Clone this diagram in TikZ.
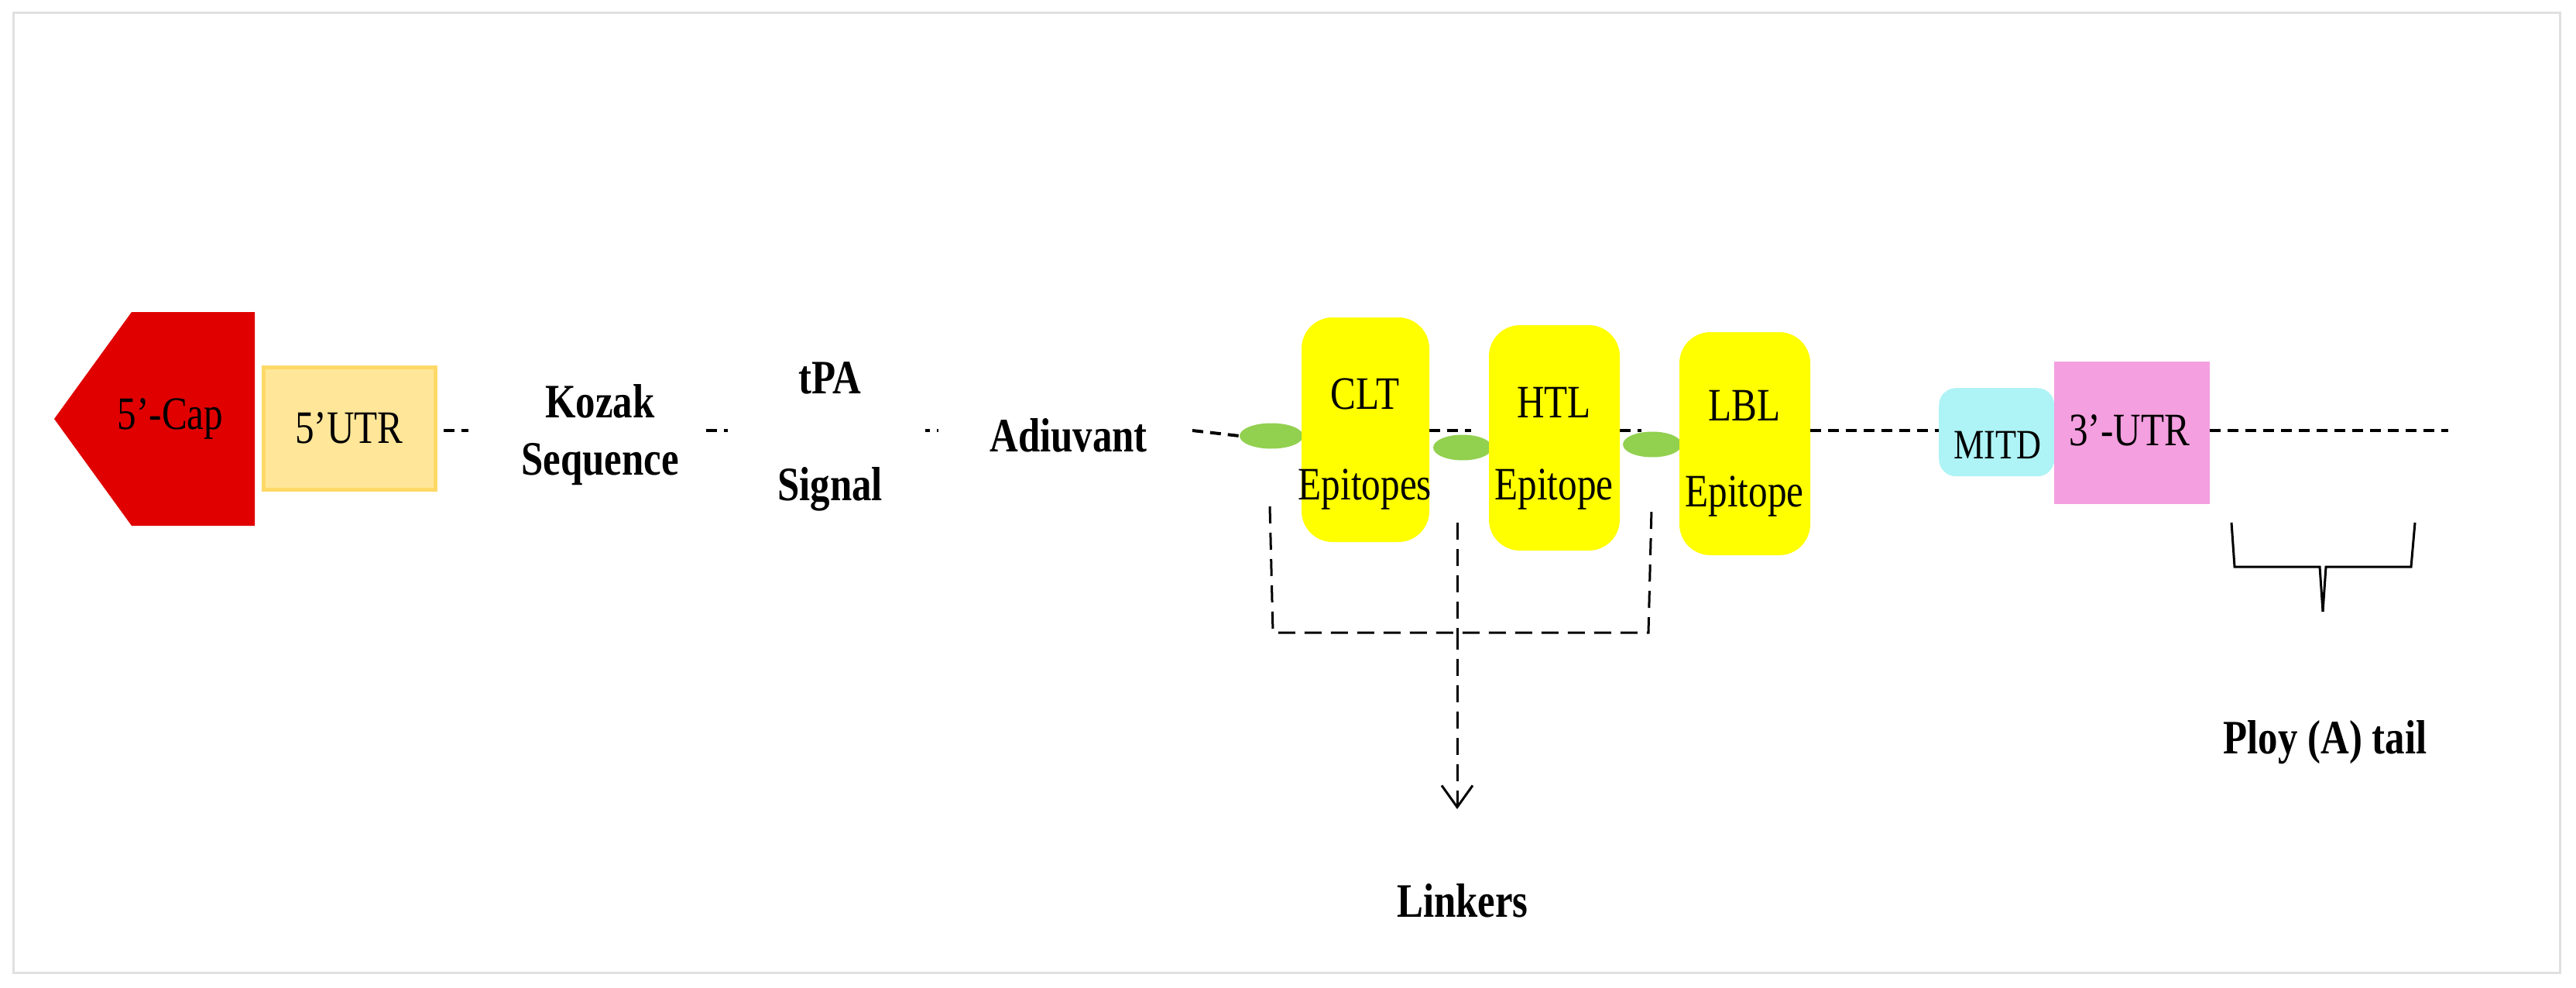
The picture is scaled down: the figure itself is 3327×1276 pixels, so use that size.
\documentclass[tikz,border=0pt]{standalone}
\usepackage{fontspec}
\setmainfont{Liberation Serif}[FakeStretch=0.82]
\usetikzlibrary{arrows.meta,shapes.geometric}
\definecolor{capred}{HTML}{E00000}
\definecolor{utrfill}{HTML}{FFE699}
\definecolor{utrdraw}{HTML}{FFD966}
\definecolor{epi}{HTML}{FFFF00}
\definecolor{lnk}{HTML}{92D050}
\definecolor{mitd}{HTML}{AEF3F5}
\definecolor{utr3}{HTML}{F49FE0}
\begin{document}
\begin{tikzpicture}[x=1pt,y=-1pt,
  lbl/.style={font=\fontsize{62}{66}\selectfont\bfseries, align=center, inner sep=0},
  boxlbl/.style={font=\fontsize{60}{64}\selectfont, inner sep=0},
  epibox/.style={fill=epi, rounded corners=40pt},
  dline/.style={line width=4pt, dash pattern=on 14pt off 9pt},
  lk/.style={fill=lnk, draw=none},
  bdash/.style={line width=3pt, dash pattern=on 22pt off 12pt}]
\useasboundingbox (0,0) rectangle (3327,1276);
\fill[white] (0,0) rectangle (3327,1276);
\draw[line width=3pt, black!12] (17,17) rectangle (3306,1256);
% 5'-Cap
\fill[capred] (70,541) -- (170,403) -- (329,403) -- (329,679) -- (170,679) -- cycle;
\node[boxlbl] (cap) at (220,541) {5’-Cap};
% 5'UTR
\node[draw=utrdraw, fill=utrfill, line width=5pt, minimum width=222pt, minimum height=158pt, inner sep=0, font=\fontsize{60}{64}\selectfont] (utr5) at (451,553) {5’UTR};
% texts
\node[lbl] (kozak) at (775,562) {Kozak\\[8pt]Sequence};
\node[lbl] (tpa) at (1072,488) {tPA};
\node[lbl] (signal) at (1072,632) {Signal};
\node[lbl] (adj) at (1380,562) {Adiuvant};
% dashed backbone pieces
\coordinate (d1a) at (573,556); \coordinate (d1b) at (605,556);
\coordinate (d2a) at (912,556); \coordinate (d2b) at (940,556);
\coordinate (d3a) at (1195,556); \coordinate (d3b) at (1212,556);
\coordinate (d4a) at (1540,556);
\draw[dline] (d1a) -- (d1b);
\draw[dline] (d2a) -- (d2b);
\draw[line width=4pt, dash pattern=on 6pt off 9pt] (d3a) -- (d3b);
% linkers
\node[lk, ellipse, minimum width=82pt, minimum height=33pt, inner sep=0] (l1) at (1642,563) {};
\node[lk, ellipse, minimum width=76pt, minimum height=33pt, inner sep=0] (l2) at (1889,578) {};
\node[lk, ellipse, minimum width=76pt, minimum height=33pt, inner sep=0] (l3) at (2134,574) {};
\draw[dline] (d4a) -- (l1.west);
\draw[dline] (1846,556) -- (1900,556);
\draw[dline] (2092,556) -- (2120,556);
% epitope boxes
\fill[epibox] (1681,410) rectangle (1846,700);
\fill[epibox] (1923,420) rectangle (2092,711);
\fill[epibox] (2169,429) rectangle (2338,717);
\node[boxlbl] (clt) at (1763,509) {CLT};
\node[boxlbl] (clte) at (1763,632) {Epitopes};
\node[boxlbl] (htl) at (2007,520) {HTL};
\node[boxlbl] (htle) at (2007,632) {Epitope};
\node[boxlbl] (lbl) at (2253,524) {LBL};
\node[boxlbl] (lble) at (2253,641) {Epitope};
% MITD and 3'UTR
\coordinate (d5) at (2504,556);
\draw[dline] (2338,556) -- (d5);
\node[fill=mitd, rounded corners=22pt, minimum width=149pt, minimum height=114pt, inner sep=0, anchor=north west] (mitd) at (2504,501) {};
\node[boxlbl, font=\fontsize{54}{58}\selectfont] (mitdt) at (2580,575) {MITD};
\node[fill=utr3, minimum width=201pt, minimum height=184pt, inner sep=0, anchor=north west] (utr3) at (2653,467) {};
\node[boxlbl] (utr3t) at (2750,556) {3’-UTR};
\coordinate (tailend) at (3162,556);
\draw[dline] (utr3.east |- tailend) -- (tailend);
% brace
\draw[line width=3pt] (2882,675) -- (2886,732) -- (2996,732) -- (3000,790);
\draw[line width=3pt] (3000,790) -- (3004,732) -- (3114,732) -- (3119,675);
\node[lbl] (tail) at (3003,959) {Ploy (A) tail};
% linkers bracket
\coordinate (bl) at (1640,654); \coordinate (blb) at (1644,817);
\coordinate (br) at (2133,658); \coordinate (brb) at (2129,817);
\coordinate (bm) at (1882,675); \coordinate (bmb) at (1882,817);
\coordinate (arr) at (1882,1045);
\draw[bdash] (bl) -- (blb) -- (brb) -- (br);
\draw[bdash] (bm) -- (bmb);
\draw[bdash, -{Straight Barb[length=28pt,width=40pt,line width=3pt]}] (bmb) -- (arr);
\node[lbl] (linkers) at (1889,1163) {Linkers};
\end{tikzpicture}
\end{document}
